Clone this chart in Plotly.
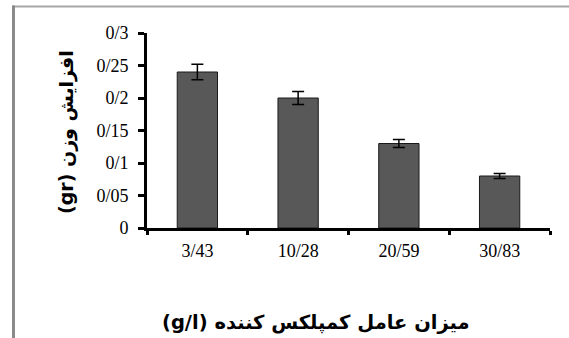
import plotly.graph_objects as go

# Complexing agent concentration (g/l) and weight gain (gr) with error margins
concentrations = ["3/43", "10/28", "20/59", "30/83"]
weight_gain = [0.24, 0.20, 0.13, 0.08]
weight_err = [0.012, 0.010, 0.006, 0.004]

y_tick_vals = [0, 0.05, 0.10, 0.15, 0.20, 0.25, 0.30]
y_tick_text = ["0", "0/05", "0/1", "0/15", "0/2", "0/25", "0/3"]

x_title = "(g/l) میزان عامل کمپلکس کننده"
y_title = "(gr) افزایش وزن"

W, H = 569, 338
L, R, T, B = 147, 19, 33, 110
pw, ph = W - L - R, H - T - B


def px_x(p):
    return (p - L) / pw


def px_y(p):
    return (H - B - p) / ph


serif = "Liberation Serif, Times New Roman, serif"
arabic = "DejaVu Sans, Noto Sans, sans-serif"

fig = go.Figure(
    go.Bar(
        x=concentrations,
        y=weight_gain,
        marker=dict(color="#585858", line=dict(color="#1a1a1a", width=1)),
        error_y=dict(type="data", array=weight_err, visible=True,
                     color="#000000", thickness=1.5, width=6),
        width=0.4,
    )
)

fig.update_layout(
    width=W,
    height=H,
    margin=dict(l=L, r=R, t=T, b=B),
    paper_bgcolor="white",
    plot_bgcolor="white",
    showlegend=False,
    font=dict(family=serif, size=18, color="#000000"),
    xaxis=dict(
        type="category",
        range=[-0.5, 3.5],
        showline=True, linecolor="#000000", linewidth=3,
        ticks="outside", tickson="boundaries", ticklen=4, tickwidth=3,
        tickcolor="#000000",
        tickfont=dict(family=serif, size=18),
        showgrid=False, zeroline=False,
        ticklabelstandoff=4,
    ),
    yaxis=dict(
        range=[0, 0.3],
        tickvals=y_tick_vals,
        ticktext=y_tick_text,
        showline=True, linecolor="#000000", linewidth=3,
        ticks="outside", ticklen=6, tickwidth=3, tickcolor="#000000",
        tickfont=dict(family=serif, size=18),
        showgrid=False, zeroline=False,
        ticklabelstandoff=6,
    ),
    annotations=[
        dict(text=f"<b>{x_title}</b>", xref="paper", yref="paper",
             x=px_x(316), y=px_y(322), xanchor="center", yanchor="middle",
             showarrow=False, font=dict(family=arabic, size=19.5, color="#000")),
        dict(text=f"<b>{y_title}</b>", xref="paper", yref="paper",
             x=px_x(66), y=px_y(132), xanchor="center", yanchor="middle",
             textangle=-90, showarrow=False,
             font=dict(family=arabic, size=19, color="#000")),
    ],
    shapes=[
        # frame around the figure (top and left edges)
        dict(type="line", xref="paper", yref="paper",
             x0=px_x(12), x1=px_x(W), y0=px_y(6.5), y1=px_y(6.5),
             line=dict(color="#a6a6a6", width=2)),
        dict(type="line", xref="paper", yref="paper",
             x0=px_x(13.5), x1=px_x(13.5), y0=px_y(5.5), y1=px_y(H),
             line=dict(color="#8a8a8a", width=3)),
    ],
)

fig.write_html("out.html")
